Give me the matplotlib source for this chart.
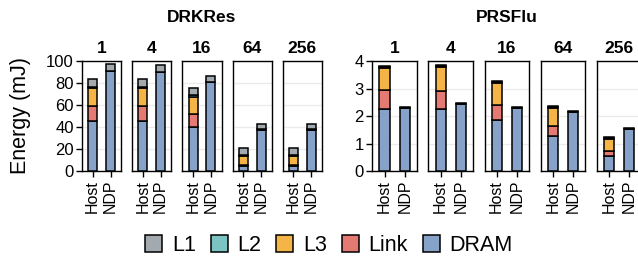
import matplotlib
matplotlib.use("Agg")
import matplotlib.pyplot as plt
from matplotlib.patches import Patch
import numpy as np

plt.rcParams['font.family'] = ['Liberation Sans', 'DejaVu Sans']

threads = ["1", "4", "16", "64", "256"]
systems = ["Host", "NDP"]
components = ["DRAM", "Link", "L3", "L2", "L1"]  # bottom to top
legend_order = ["L1", "L2", "L3", "Link", "DRAM"]
colors = {"L1": "#A2A9AF", "L2": "#7CC4C4", "L3": "#F5B546", "Link": "#E57A72", "DRAM": "#87A2C9"}

# DRKRes (mJ)
drk_host_dram = [46, 46, 40, 4.5, 4.5]
drk_host_link = [13, 13, 12, 1.5, 1.5]
drk_host_l3 = [17, 17, 16, 8, 8]
drk_host_l2 = [1, 1, 1, 1, 1]
drk_host_l1 = [7, 7, 6.5, 6.5, 6.5]
drk_ndp_dram = [91, 90, 81, 38, 38]
drk_ndp_link = [0, 0, 0, 0, 0]
drk_ndp_l3 = [0, 0, 0, 0, 0]
drk_ndp_l2 = [0.5, 0.5, 0.5, 0.5, 0.5]
drk_ndp_l1 = [6.5, 6.5, 5.5, 4.5, 4.5]

# PRSFlu (mJ)
prs_host_dram = [2.27, 2.25, 1.85, 1.30, 0.57]
prs_host_link = [0.68, 0.68, 0.56, 0.36, 0.17]
prs_host_l3 = [0.82, 0.87, 0.80, 0.66, 0.44]
prs_host_l2 = [0.02, 0.02, 0.02, 0.02, 0.02]
prs_host_l1 = [0.05, 0.05, 0.05, 0.05, 0.05]
prs_ndp_dram = [2.31, 2.46, 2.31, 2.16, 1.55]
prs_ndp_link = [0, 0, 0, 0, 0]
prs_ndp_l3 = [0, 0, 0, 0, 0]
prs_ndp_l2 = [0, 0, 0, 0, 0]
prs_ndp_l1 = [0.015, 0.015, 0.015, 0.015, 0.015]

datasets = [
    dict(title="DRKRes", ymax=100, yticks=[0, 20, 40, 60, 80, 100],
         host={"DRAM": drk_host_dram, "Link": drk_host_link, "L3": drk_host_l3, "L2": drk_host_l2, "L1": drk_host_l1},
         ndp={"DRAM": drk_ndp_dram, "Link": drk_ndp_link, "L3": drk_ndp_l3, "L2": drk_ndp_l2, "L1": drk_ndp_l1},
         left=82, step=50.2, width=39.2),
    dict(title="PRSFlu", ymax=4, yticks=[0, 1, 2, 3, 4],
         host={"DRAM": prs_host_dram, "Link": prs_host_link, "L3": prs_host_l3, "L2": prs_host_l2, "L1": prs_host_l1},
         ndp={"DRAM": prs_ndp_dram, "Link": prs_ndp_link, "L3": prs_ndp_l3, "L2": prs_ndp_l2, "L1": prs_ndp_l1},
         left=372.3, step=56.1, width=44.8),
]

W, H = 638, 256
fig = plt.figure(figsize=(W / 100, H / 100), dpi=100)

top_px, bot_px = 61.3, 171.3

for ds in datasets:
    for i, t in enumerate(threads):
        lx = ds["left"] + i * ds["step"]
        ax = fig.add_axes([lx / W, 1 - bot_px / H, ds["width"] / W, (bot_px - top_px) / H])
        x = np.arange(len(systems))
        for s, key in enumerate(["host", "ndp"]):
            bottom = 0.0
            for comp in components:
                v = ds[key][comp][i]
                ax.bar(x[s], v, bottom=bottom, width=0.5, color=colors[comp],
                       edgecolor="black", linewidth=1.1, zorder=3)
                bottom += v
        ax.set_xlim(-0.6, 1.6)
        ax.set_ylim(0, ds["ymax"])
        ax.set_yticks(ds["yticks"])
        ax.set_xticks(x)
        ax.set_xticklabels(systems, rotation=90, fontsize=11.5, va="top", ha="center")
        ax.grid(axis="y", color="#EBEBEB", linewidth=1.0, zorder=0)
        ax.set_axisbelow(True)
        for sp in ax.spines.values():
            sp.set_linewidth(1.0)
            sp.set_color("black")
        ax.tick_params(axis="x", length=4, width=1.0, pad=2, colors="black")
        if i == 0:
            ax.tick_params(axis="y", length=4, width=1.0, pad=2, labelsize=12)
        else:
            ax.tick_params(axis="y", length=0, labelleft=False)
        ax.set_title(t, fontsize=12.5, fontweight="bold", pad=6)
    total_w = 4 * ds["step"] + ds["width"]
    cx = ds["left"] + total_w / 2
    fig.text(cx / W, 1 - 18 / H, ds["title"], ha="center", va="center",
             fontsize=12.5, fontweight="bold")

fig.text(21 / W, 1 - 116 / H, "Energy (mJ)", rotation=90, ha="center", va="center", fontsize=15.5)

handles = [Patch(facecolor=colors[c], edgecolor="black", linewidth=1.1, label=c) for c in legend_order]
fig.legend(handles=handles, loc="center", bbox_to_anchor=(329 / W, 1 - 245.5 / H), ncol=5,
           frameon=False, fontsize=15.5, handlelength=0.78, handleheight=0.78,
           handletextpad=0.45, columnspacing=0.7, borderaxespad=0, borderpad=0)

fig.savefig("out.png", dpi=100)
